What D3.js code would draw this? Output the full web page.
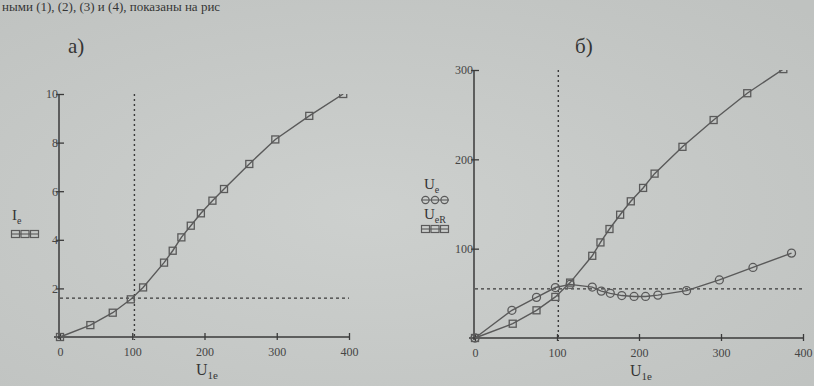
<!DOCTYPE html>
<html>
<head>
<meta charset="utf-8">
<script src="https://cdn.jsdelivr.net/npm/d3@7"></script>
<style>
  html, body { margin: 0; padding: 0; background: #c7cac8; }
  svg { display: block; }
  .tick text { font-family: "Liberation Serif", "DejaVu Serif", serif; font-size: 12px; fill: #454545; }
  .lbl { font-family: "Liberation Serif", "DejaVu Serif", serif; fill: #353535; }
</style>
</head>
<body>
<div id="chart"></div>
<script>
// chart a): I_e vs U_1e
const leftU = [0, 42, 73, 98, 115, 144, 156, 168, 181, 195, 211, 227, 262, 298, 345, 392];
const leftI = [0, 0.49, 1.0, 1.55, 2.04, 3.06, 3.55, 4.1, 4.58, 5.09, 5.61, 6.09, 7.12, 8.13, 9.1, 10.0];
const leftXTicks = [0, 100, 200, 300, 400];
const leftYTicks = [2, 4, 6, 8, 10];
const leftVLine = 103, leftHLine = 1.6;

// chart б): U_eR (squares) and U_e (circles) vs U_1e
const rightUsq = [0, 46, 75, 98, 116, 143, 153, 164, 177, 190, 205, 219, 253, 291, 332, 376];
const rightUeR = [0, 16, 31, 46, 62, 92, 107, 122, 138, 153, 168, 184, 214, 244, 274, 301];
const rightUci = [0, 45, 75, 98, 116, 143, 154, 165, 179, 194, 208, 223, 258, 298, 339, 386];
const rightUe = [0, 31, 45.5, 56.5, 60, 57, 52.5, 50, 47.5, 46.5, 46.5, 48, 53, 65, 79, 95];
const rightXTicks = [0, 100, 200, 300, 400];
const rightYTicks = [100, 200, 300];
const rightVLine = 101.6, rightHLine = 55;

const W = 814, H = 386;
const ink = "#3a3a3a", lineCol = "#5a5a5a";

const svg = d3.select("#chart").append("svg")
  .attr("width", W).attr("height", H);

// paper-ish background
const grad = svg.append("defs").append("radialGradient")
  .attr("id", "paper").attr("cx", "45%").attr("cy", "55%").attr("r", "75%");
grad.append("stop").attr("offset", "0%").attr("stop-color", "#cdd0ce");
grad.append("stop").attr("offset", "100%").attr("stop-color", "#bfc2c0");
svg.append("rect").attr("width", W).attr("height", H).attr("fill", "url(#paper)");

// line of text at the very top of the page
svg.append("text").attr("class", "lbl")
  .attr("x", 2).attr("y", 11)
  .style("font-size", "13px")
  .text("ными (1), (2), (3) и (4), показаны на рис");

svg.append("text").attr("class", "lbl").attr("x", 68).attr("y", 53)
  .style("font-size", "21px").text("а)");
svg.append("text").attr("class", "lbl").attr("x", 575).attr("y", 53)
  .style("font-size", "21px").text("б)");

function square(g, cx, cy) {
  g.append("rect")
    .attr("x", cx - 3.5).attr("y", cy - 3.5)
    .attr("width", 7).attr("height", 7)
    .attr("fill", "none").attr("stroke", lineCol).attr("stroke-width", 1.3);
}
function circle(g, cx, cy) {
  g.append("circle").attr("cx", cx).attr("cy", cy).attr("r", 4)
    .attr("fill", "none").attr("stroke", lineCol).attr("stroke-width", 1.3);
}

function panel(opts) {
  const { id, x, y, xTicks, yTicks, vLine, hLine } = opts;
  const g = svg.append("g");

  svg.select("defs").append("clipPath").attr("id", id)
    .append("rect")
      .attr("x", x.range()[0] - 10).attr("y", y.range()[1])
      .attr("width", x.range()[1] - x.range()[0] + 20)
      .attr("height", y.range()[0] - y.range()[1] + 10);

  // axes
  const xa = g.append("g")
    .attr("transform", `translate(0,${y(0)})`)
    .call(d3.axisBottom(x).tickValues(xTicks).tickSize(-4).tickPadding(10).tickSizeOuter(0));
  xa.selectAll(".tick line").attr("y2", -4).attr("y1", 3);
  const ya = g.append("g")
    .attr("transform", `translate(${x(0) - 1},0)`)
    .call(d3.axisLeft(y).tickValues(yTicks).tickSize(-5).tickPadding(1).tickSizeOuter(0));
  ya.selectAll(".tick line").attr("x1", -3);
  g.selectAll(".domain").attr("stroke", ink).attr("stroke-width", 1.5);
  g.selectAll(".tick line").attr("stroke", ink).attr("stroke-width", 1.3);
  xa.select(".domain").attr("d", `M${x(0) - 6},0H${x.range()[1]}`);
  ya.select(".domain").attr("d", `M0,${y(0) + 2}V${y.range()[1]}`);

  // dashed guides
  g.append("line")
    .attr("x1", x(vLine)).attr("x2", x(vLine))
    .attr("y1", y.range()[1]).attr("y2", y(0) + 3)
    .attr("stroke", ink).attr("stroke-width", 1.4).attr("stroke-dasharray", "2,3");
  g.append("line")
    .attr("x1", x(0)).attr("x2", x.range()[1])
    .attr("y1", y(hLine)).attr("y2", y(hLine))
    .attr("stroke", ink).attr("stroke-width", 1.3).attr("stroke-dasharray", "3,3");

  const plot = g.append("g").attr("clip-path", `url(#${id})`);
  const line = d3.line().x(d => x(d[0])).y(d => y(d[1]));
  opts.series.forEach(s => {
    const pts = d3.zip(s.xs, s.ys);
    plot.append("path").attr("d", line(pts))
      .attr("fill", "none").attr("stroke", lineCol).attr("stroke-width", 1.4);
    pts.forEach(p => s.mark(plot, x(p[0]), y(p[1])));
  });
  return g;
}

// legend-like symbol rows under the y labels
function symRow(mark, x0, yy) {
  const g = svg.append("g");
  g.append("line").attr("x1", x0).attr("x2", x0 + 28).attr("y1", yy).attr("y2", yy)
    .attr("stroke", lineCol).attr("stroke-width", 1.1);
  [0, 1, 2].forEach(i => mark(g, x0 + 4.5 + i * 9.5, yy));
}
function smallSquare(g, cx, cy) {
  g.append("rect").attr("x", cx - 4).attr("y", cy - 3.5).attr("width", 8).attr("height", 7)
    .attr("fill", "none").attr("stroke", lineCol).attr("stroke-width", 1.2);
}
function smallCircle(g, cx, cy) {
  g.append("circle").attr("cx", cx).attr("cy", cy).attr("r", 3.6)
    .attr("fill", "none").attr("stroke", lineCol).attr("stroke-width", 1.2);
}

// ---- panel a)
const xL = d3.scaleLinear().domain([0, 400]).range([60, 349]);
const yL = d3.scaleLinear().domain([0, 10]).range([337, 94]);
panel({
  id: "clipL", x: xL, y: yL, xTicks: leftXTicks, yTicks: leftYTicks,
  vLine: leftVLine, hLine: leftHLine,
  series: [{ xs: leftU, ys: leftI, mark: square }]
});

svg.append("text").attr("class", "lbl").attr("x", 12).attr("y", 220)
  .style("font-size", "15px")
  .html('I<tspan dy="4" style="font-size:10px">e</tspan>');
symRow(smallSquare, 11, 234);
svg.append("text").attr("class", "lbl").attr("x", 196).attr("y", 375)
  .style("font-size", "16px")
  .html('U<tspan dy="4" style="font-size:11px">1e</tspan>');

// ---- panel б)
const xR = d3.scaleLinear().domain([0, 400]).range([475, 803]);
const yR = d3.scaleLinear().domain([0, 300]).range([338, 70]);
panel({
  id: "clipR", x: xR, y: yR, xTicks: rightXTicks, yTicks: rightYTicks,
  vLine: rightVLine, hLine: rightHLine,
  series: [
    { xs: rightUci, ys: rightUe, mark: circle },
    { xs: rightUsq, ys: rightUeR, mark: square }
  ]
});

svg.append("text").attr("class", "lbl").attr("x", 424).attr("y", 189)
  .style("font-size", "15px")
  .html('U<tspan dy="4" style="font-size:10px">e</tspan>');
symRow(smallCircle, 421, 200);
svg.append("text").attr("class", "lbl").attr("x", 424).attr("y", 219)
  .style("font-size", "15px")
  .html('U<tspan dy="4" style="font-size:10px">eR</tspan>');
symRow(smallSquare, 421, 229);
svg.append("text").attr("class", "lbl").attr("x", 630).attr("y", 376)
  .style("font-size", "16px")
  .html('U<tspan dy="4" style="font-size:11px">1e</tspan>');
</script>
</body>
</html>
